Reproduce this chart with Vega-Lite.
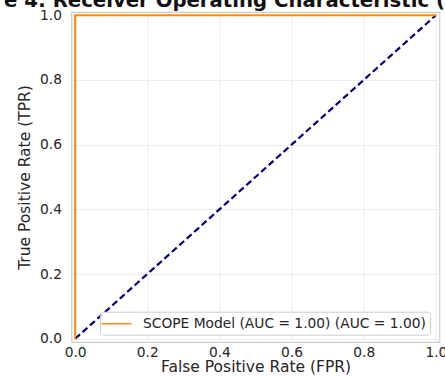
{
  "$schema": "https://vega.github.io/schema/vega-lite/v6.json",
  "autosize": {"type": "none"},
  "width": 368,
  "height": 330,
  "padding": {"left": 71.5, "top": 12, "right": 5.5, "bottom": 36},
  "background": "white",
  "title": {
    "text": "Figure 4: Receiver Operating Characteristic (ROC)",
    "anchor": "start",
    "frame": "group",
    "dx": -125.5,
    "dy": 19,
    "offset": 1,
    "baseline": "alphabetic",
    "font": "DejaVu Sans",
    "fontSize": 19.7,
    "fontWeight": "bold",
    "color": "#111111"
  },
  "config": {
    "font": "DejaVu Sans",
    "view": {"stroke": "#cccccc", "strokeWidth": 1.25},
    "axis": {
      "labelFont": "DejaVu Sans",
      "labelFontSize": 13.8,
      "labelColor": "#262626",
      "titleFont": "DejaVu Sans",
      "titleFontSize": 15.5,
      "titleFontWeight": "normal",
      "titleColor": "#262626",
      "ticks": false,
      "tickSize": 0,
      "domain": false,
      "grid": true,
      "gridColor": "#ebebeb",
      "gridWidth": 1
    },
    "legend": {
      "labelFont": "DejaVu Sans",
      "labelFontSize": 13.8,
      "labelColor": "#262626",
      "labelLimit": 500
    }
  },
  "datasets": {
    "roc": [
      {"fpr": 0, "tpr": 0, "series": "SCOPE Model (AUC = 1.00) (AUC = 1.00)"},
      {"fpr": 0, "tpr": 1, "series": "SCOPE Model (AUC = 1.00) (AUC = 1.00)"},
      {"fpr": 1, "tpr": 1, "series": "SCOPE Model (AUC = 1.00) (AUC = 1.00)"}
    ],
    "diag": [
      {"fpr": 0, "tpr": 0},
      {"fpr": 1, "tpr": 1}
    ]
  },
  "layer": [
    {
      "data": {"name": "diag"},
      "mark": {"type": "line", "color": "#000080", "strokeWidth": 2.2, "strokeDash": [6.5, 3.5], "clip": false},
      "encoding": {
        "x": {"field": "fpr", "type": "quantitative"},
        "y": {"field": "tpr", "type": "quantitative"}
      }
    },
    {
      "data": {"name": "roc"},
      "mark": {"type": "line", "strokeWidth": 2, "clip": false},
      "encoding": {
        "x": {
          "field": "fpr", "type": "quantitative",
          "scale": {"domain": [-0.01, 1.01], "nice": false, "zero": false},
          "axis": {"title": "False Positive Rate (FPR)", "values": [0, 0.2, 0.4, 0.6, 0.8, 1.0], "format": ".1f", "labelPadding": 3, "titlePadding": 1, "labelFlush": false}
        },
        "y": {
          "field": "tpr", "type": "quantitative",
          "scale": {"domain": [-0.01, 1.01], "nice": false, "zero": false},
          "axis": {"title": "True Positive Rate (TPR)", "values": [0, 0.2, 0.4, 0.6, 0.8, 1.0], "format": ".1f", "labelPadding": 10, "titlePadding": 7, "labelFlush": false}
        },
        "order": {"field": "tpr"},
        "color": {
          "field": "series", "type": "nominal",
          "scale": {"range": ["#ff8c00"]},
          "legend": {
            "title": null,
            "orient": "none",
            "legendX": 28.5,
            "legendY": 299.7,
            "padding": 3.5,
            "symbolType": "M-2,0H2",
            "symbolSize": 225,
            "symbolOffset": 4.5,
            "symbolStrokeWidth": 1.5,
            "labelOffset": 18,
            "fillColor": "rgba(255,255,255,0.8)",
            "strokeColor": "#cccccc",
            "cornerRadius": 3
          }
        }
      }
    }
  ]
}
